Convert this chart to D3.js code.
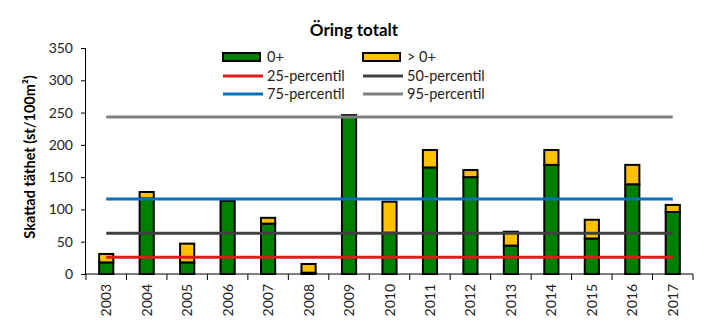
<!DOCTYPE html>
<html><head><meta charset="utf-8">
<script src="https://cdn.jsdelivr.net/npm/d3@7"></script>
<style>body{margin:0;background:#fff}svg{display:block}text{font-family:Lato,"Open Sans",sans-serif}</style>
</head><body><svg id="c" width="708" height="325"></svg>
<script>
const years = ["2003","2004","2005","2006","2007","2008","2009","2010","2011","2012","2013","2014","2015","2016","2017"];
const age0 = [18, 117, 18, 113, 78, 2, 246, 64, 165, 150, 44, 169, 55, 139, 96];
const older = [13, 10, 29, 0, 9, 13.5, 0, 48, 27, 11, 21.5, 23, 29, 30, 11];
const percentiles = [
  {name:"25-percentil", value:26, color:"#e31a1c"},
  {name:"50-percentil", value:63, color:"#404040"},
  {name:"75-percentil", value:116, color:"#0070c0"},
  {name:"95-percentil", value:243, color:"#808080"}
];
const yTicks = [0,50,100,150,200,250,300,350];

const svg = d3.select("#c");
const L=86, R=693, T=48, B=274;
const xb = d3.scaleBand().domain(years).range([L,R]);
const y = d3.scaleLinear().domain([0,350]).range([B,T]);
const xc = d => xb(d)+xb.bandwidth()/2;
const bw = xb.bandwidth()*0.35;

// bars
const g = svg.append("g");
years.forEach((yr,i)=>{
  const a=age0[i], o=older[i];
  g.append("rect").attr("x",xc(yr)-bw/2).attr("width",bw)
    .attr("y",y(a)).attr("height",y(0)-y(a))
    .attr("fill","#008000").attr("stroke","#000").attr("stroke-width",2);
  if(o>0){
    g.append("rect").attr("x",xc(yr)-bw/2).attr("width",bw)
      .attr("y",y(a+o)).attr("height",y(a)-y(a+o))
      .attr("fill","#ffc000").attr("stroke","#000").attr("stroke-width",2);
  }
});
percentiles.forEach(p=>{
  svg.append("line").attr("x1",xc(years[0])).attr("x2",xc(years[years.length-1]))
    .attr("y1",y(p.value)).attr("y2",y(p.value))
    .attr("stroke",p.color).attr("stroke-width",3);
});

// y axis
const ya = svg.append("g").attr("transform",`translate(${L},0)`)
  .call(d3.axisLeft(y).tickValues(yTicks).tickSize(5).tickPadding(8));
ya.select(".domain").attr("stroke","#000").attr("d",`M-0.5,${T}V${B}`);
ya.selectAll("text").attr("font-size",14).attr("fill","#222");
ya.selectAll("line").attr("stroke","#000");

// x axis
const xa = svg.append("g").attr("transform",`translate(0,${B})`);
xa.append("line").attr("x1",L).attr("x2",R).attr("y1",0).attr("y2",0).attr("stroke","#000");
const bounds = years.map(d=>xb(d)).concat([R]);
xa.selectAll("line.tk").data(bounds).enter().append("line").attr("class","tk")
  .attr("x1",d=>d).attr("x2",d=>d).attr("y1",0).attr("y2",6).attr("stroke","#000");
xa.selectAll("text").data(years).enter().append("text")
  .attr("transform",d=>`translate(${xc(d)+5},10) rotate(-90)`)
  .attr("text-anchor","end").attr("font-size",14).attr("fill","#222").text(d=>d);

// title
svg.append("text").attr("x",354).attr("y",36).attr("text-anchor","middle")
  .attr("font-size",17).attr("font-weight","bold").text("Öring totalt");

// y title
svg.append("text").attr("transform","translate(35,157) rotate(-90)")
  .attr("text-anchor","middle").attr("font-size",14.5).attr("font-weight","bold")
  .text("Skattad täthet (st/100m²)");

// legend
const leg = [
  {t:"0+", type:"rect", c:"#008000", x:223, y:57},
  {t:"> 0+", type:"rect", c:"#ffc000", x:363, y:57},
  {t:percentiles[0].name, type:"line", c:percentiles[0].color, x:223, y:76},
  {t:percentiles[1].name, type:"line", c:percentiles[1].color, x:363, y:76},
  {t:percentiles[2].name, type:"line", c:percentiles[2].color, x:223, y:94},
  {t:percentiles[3].name, type:"line", c:percentiles[3].color, x:363, y:94}
];
leg.forEach(l=>{
  if(l.type==="rect"){
    svg.append("rect").attr("x",l.x).attr("y",l.y-4).attr("width",37).attr("height",8)
      .attr("fill",l.c).attr("stroke","#000").attr("stroke-width",2);
  } else {
    svg.append("line").attr("x1",l.x).attr("x2",l.x+40).attr("y1",l.y).attr("y2",l.y)
      .attr("stroke",l.c).attr("stroke-width",3);
  }
  svg.append("text").attr("x",l.x+44).attr("y",l.y+5).attr("font-size",14.5).attr("fill","#222").text(l.t);
});
</script></body></html>
